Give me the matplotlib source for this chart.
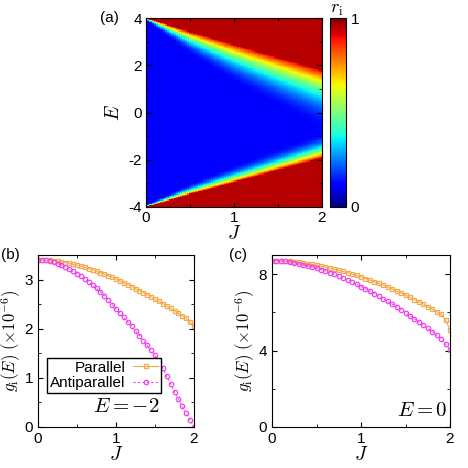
import numpy as np
import matplotlib
matplotlib.use("Agg")
import matplotlib.pyplot as plt

plt.rcParams['font.family'] = ['Liberation Sans', 'DejaVu Sans']
plt.rcParams['mathtext.fontset'] = 'cm'
plt.rcParams['font.size'] = 11
plt.rcParams['axes.unicode_minus'] = False

# ---- data ----
J = np.round(np.arange(0, 2.0001, 0.05), 2)
par_b = [3.400,3.399,3.396,3.390,3.382,3.372,3.360,3.347,3.331,3.313,3.294,3.272,3.249,3.225,3.199,3.171,3.142,3.111,3.078,3.045,
         3.010,2.974,2.936,2.898,2.859,2.818,2.777,2.735,2.690,2.646,2.601,2.555,2.509,2.462,2.414,2.366,2.318,2.265,2.210,2.130,2.050]
anti_b = [3.40,3.40,3.39,3.37,3.35,3.32,3.29,3.25,3.21,3.17,3.12,3.07,3.01,2.95,2.89,2.82,2.75,2.67,2.58,2.49,
          2.40,2.32,2.23,2.14,2.05,1.96,1.86,1.76,1.66,1.56,1.46,1.33,1.20,1.04,0.88,0.72,0.57,0.42,0.28,0.14,0.00]
par_c = [8.70,8.70,8.69,8.68,8.66,8.64,8.61,8.58,8.55,8.51,8.47,8.42,8.37,8.32,8.26,8.20,8.14,8.07,8.00,7.93,
         7.85,7.77,7.69,7.60,7.51,7.42,7.32,7.22,7.12,7.01,6.90,6.79,6.67,6.55,6.43,6.30,6.17,6.03,5.89,5.60,5.10]
anti_c = [8.70,8.70,8.68,8.66,8.63,8.59,8.55,8.50,8.44,8.38,8.31,8.24,8.16,8.07,7.98,7.89,7.79,7.69,7.58,7.47,
          7.35,7.23,7.11,6.98,6.85,6.71,6.57,6.43,6.28,6.13,5.98,5.82,5.66,5.50,5.33,5.16,4.99,4.81,4.63,4.35,4.05]

# heatmap: read band-edge positions (red onset) and transition widths vs J
J_edge = [0.0, 0.5, 1.0, 1.5, 2.0]
upper_edge = [4.0, 3.4, 2.85, 2.3, 1.75]
upper_width = [0.1, 1.0, 1.7, 2.2, 2.6]
lower_edge = [-4.0, -3.45, -2.95, -2.42, -1.9]
lower_width = [0.1, 0.5, 0.8, 1.0, 1.2]
background = 0.12

Jg = np.linspace(0, 2, 81)
Eg = np.linspace(-4, 4, 161)
ue = np.interp(Jg, J_edge, upper_edge); uw = np.interp(Jg, J_edge, upper_width)
le = np.interp(Jg, J_edge, lower_edge); lw = np.interp(Jg, J_edge, lower_width)
EE, _ = np.meshgrid(Eg, Jg, indexing='ij')
tu = np.clip(1 - (ue[None, :] - EE) / uw[None, :], 0, 1)
tl = np.clip(1 - (EE - le[None, :]) / lw[None, :], 0, 1)
R = background + (0.9 - background) * np.maximum(tu**2.2, tl**2.5)
R[EE >= ue[None, :]] = 0.95
R[EE <= le[None, :]] = 0.95

fig = plt.figure(figsize=(4.68, 4.68), dpi=100)
W = H = 468.0
def ax_at(x0, y0, x1, y1):
    return fig.add_axes([x0/W, 1-y1/H, (x1-x0)/W, (y1-y0)/H])

axa = ax_at(146, 18, 322, 207)
im = axa.pcolormesh(Jg, Eg, R, cmap='jet', vmin=0, vmax=1, shading='auto')
axa.set_xlim(0, 2); axa.set_ylim(-4, 4)
axa.set_xticks([0, 1, 2]); axa.set_yticks([-4, -2, 0, 2, 4])
axa.set_xticks([0.5, 1.5], minor=True); axa.set_yticks([-3, -1, 1, 3], minor=True)
axa.tick_params(which='both', direction='in', top=True, right=True, color='k', pad=3)
axa.set_xlabel(r'$J$', fontsize=14, labelpad=0)
axa.set_ylabel(r'$E$', fontsize=14, labelpad=4)
axa.text(-0.26, 1.0, '(a)', transform=axa.transAxes, fontsize=11, va='center')
cax = ax_at(330, 18, 346, 207)
cb = fig.colorbar(im, cax=cax, ticks=[0, 1])
cax.tick_params(length=0)
cax.set_title(r'$r_{\rm i}$', fontsize=13, pad=2, loc='left')

def lineplot(rect, par, anti, ylim, yticks, yminor, label, etext, legend):
    ax = ax_at(*rect)
    ax.plot(J, par, '-', color='#f5a94e', lw=0.8, marker='s', ms=3.5, mfc='none', mec='#f5a94e', mew=0.9, label='Parallel')
    ax.plot(J, anti, color='#ee44ee', lw=0.8, ls=(0, (2, 2)), marker='o', ms=3.2, mfc='none', mec='#ee44ee', mew=0.9, label='Antiparallel')
    ax.set_xlim(0, 2); ax.set_ylim(*ylim)
    ax.set_xticks([0, 1, 2]); ax.set_xticks([0.5, 1.5], minor=True)
    ax.set_yticks(yticks); ax.set_yticks(yminor, minor=True)
    ax.tick_params(which='both', direction='in', top=True, right=True)
    ax.set_xlabel(r'$J$', fontsize=14, labelpad=0)
    ax.set_ylabel(r'$g_{\rm i}(E)\ (\times 10^{-6})$', fontsize=12, labelpad=1)
    ax.text(-0.24, 1.0, label, transform=ax.transAxes, fontsize=11, va='center')
    t = ax.text(*etext, fontsize=15)
    if legend:
        ax.legend(loc='center left', bbox_to_anchor=(0.06, 0.3), fancybox=False, edgecolor='k',
                  framealpha=1, handlelength=1.6, borderpad=0.2, labelspacing=0.1, markerfirst=False,
                  fontsize=11, handletextpad=0.5, borderaxespad=0)
    return ax

axb = lineplot((38, 255, 194, 427), par_b, anti_b, (0, 3.5), [0, 1, 2, 3], [0.5, 1.5, 2.5],
               '(b)', (0.7, 0.3, r'$E=-2$'), True)
axc = lineplot((272, 255, 450, 427), par_c, anti_c, (0, 9), [0, 4, 8], [2, 6],
               '(c)', (1.4, 0.6, r'$E=0$'), False)

fig.savefig('out.png', dpi=100)
